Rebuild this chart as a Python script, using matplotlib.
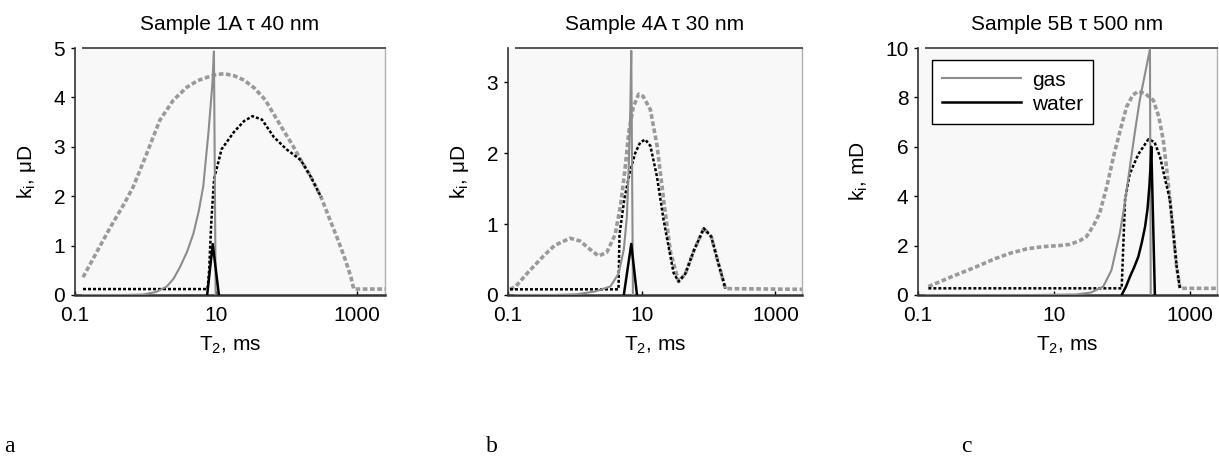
import numpy as np
import matplotlib
matplotlib.use('Agg')
import matplotlib.pyplot as plt
from matplotlib.lines import Line2D

plt.rcParams['font.family'] = ['Liberation Sans', 'DejaVu Sans']
plt.rcParams['mathtext.fontset'] = 'custom'
plt.rcParams['mathtext.rm'] = 'Liberation Sans'
plt.rcParams['mathtext.it'] = 'Liberation Sans'

# ---- panel a: Sample 1A ----
a_gas_x = [0.13, 0.5, 0.93, 1.4, 2.0, 2.5, 3.1, 3.9, 4.8, 5.7, 6.6, 7.8, 8.9, 9.35, 9.9]
a_gas_y = [0, 0, 0.01, 0.06, 0.17, 0.33, 0.57, 0.88, 1.25, 1.7, 2.2, 3.27, 4.28, 4.93, 0]
a_water_x = [7.5, 9.0, 11.0]
a_water_y = [0, 1.03, 0]
a_gasdash_x = [0.13, 0.2, 0.32, 0.5, 0.67, 1.0, 1.6, 2.5, 3.9, 5.5, 7.6, 10, 13, 18, 25, 35, 50, 70, 90,
               120, 160, 220, 310, 420, 540, 680, 820, 900, 2500]
a_gasdash_y = [0.36, 0.85, 1.38, 1.85, 2.19, 2.8, 3.54, 3.95, 4.21, 4.34, 4.41, 4.46, 4.48, 4.44, 4.35,
               4.19, 3.95, 3.6, 3.34, 3.05, 2.73, 2.4, 1.98, 1.5, 1.11, 0.72, 0.37, 0.12, 0.12]
a_waterdot_x = [0.13, 7.6, 8.0, 8.6, 9.4, 12, 18, 25, 33, 45, 66, 100, 160, 220, 310]
a_waterdot_y = [0.12, 0.12, 0.5, 1.5, 2.35, 2.95, 3.3, 3.52, 3.62, 3.55, 3.2, 2.95, 2.73, 2.4, 1.98]

# ---- panel b: Sample 4A ----
b_gas_x = [0.13, 0.5, 1.07, 2.0, 3.4, 4.5, 5.4, 6.0, 6.4, 6.75, 6.98, 7.4]
b_gas_y = [0, 0, 0.01, 0.05, 0.12, 0.3, 0.64, 1.1, 1.81, 2.6, 3.44, 0]
b_water_x = [5.4, 6.98, 8.5]
b_water_y = [0, 0.72, 0]
b_gasdash_x = [0.107, 0.13, 0.2, 0.34, 0.5, 0.85, 1.2, 1.7, 2.26, 3.0, 4.0, 4.8, 5.6, 6.4, 7.5, 9.0, 10.5,
               13.5, 17, 21.3, 27, 35.7, 45, 60, 85, 110, 140, 179, 2500]
b_gasdash_y = [0.08, 0.12, 0.32, 0.55, 0.7, 0.8, 0.76, 0.64, 0.55, 0.6, 0.85, 1.25, 1.75, 2.29, 2.65, 2.83,
               2.8, 2.61, 2.1, 1.34, 0.6, 0.19, 0.3, 0.62, 0.94, 0.82, 0.45, 0.09, 0.08]
b_waterdot_x = [0.107, 4.5, 4.65, 5.5, 6.6, 8.0, 9.5, 11.3, 13.5, 16.9, 21.3, 30, 35.7, 45, 60, 85, 110, 140, 179]
b_waterdot_y = [0.08, 0.08, 0.85, 1.35, 1.72, 2.0, 2.15, 2.19, 2.1, 1.67, 1.05, 0.31, 0.19, 0.3, 0.62, 0.94,
                0.82, 0.45, 0.09]

# ---- panel c: Sample 5B ----
c_gas_x = [0.13, 5, 21, 35, 53, 70, 93, 110, 131, 155, 183, 220, 258, 265]
c_gas_y = [0, 0, 0.02, 0.1, 0.34, 1.0, 2.5, 3.7, 5.2, 6.6, 7.9, 9.0, 9.95, 0]
c_water_x = [99, 115, 131, 150, 174, 195, 219, 238, 253, 263, 270, 305]
c_water_y = [0, 0.35, 0.74, 1.1, 1.55, 2.1, 2.77, 3.5, 4.4, 5.2, 6.0, 0]
c_gasdash_x = [0.142, 0.3, 0.73, 1.3, 2.26, 4.0, 7.0, 12, 17.2, 24, 30, 38, 47, 60, 75, 95, 117, 145, 174,
               220, 289, 350, 405, 455, 508, 570, 637, 713, 2500]
c_gasdash_y = [0.34, 0.72, 1.15, 1.45, 1.69, 1.87, 1.96, 2.0, 2.05, 2.2, 2.36, 2.8, 3.31, 4.4, 5.6, 6.7,
               7.62, 8.1, 8.25, 8.15, 7.89, 7.2, 6.27, 5.1, 3.85, 2.5, 1.15, 0.27, 0.27]
c_waterdot_x = [0.142, 99, 104, 111, 130, 174, 244, 300, 363, 430, 508, 570, 637, 713]
c_waterdot_y = [0.27, 0.27, 1.8, 3.85, 4.9, 5.7, 6.3, 6.2, 5.6, 4.7, 3.85, 2.5, 1.15, 0.27]

titles = [u'Sample 1A \u03c4 40 nm', u'Sample 4A \u03c4 30 nm', u'Sample 5B \u03c4 500 nm']
ylabels = [u'k$_{\\mathrm{i}}$, \u03bcD', u'k$_{\\mathrm{i}}$, \u03bcD', u'k$_{\\mathrm{i}}$, mD']
ylims = [5, 3.48, 10]
yticks = [[0, 1, 2, 3, 4, 5], [0, 1, 2, 3], [0, 2, 4, 6, 8, 10]]
xticks = [0.1, 10, 1000]
panel_letters = ['a', 'b', 'c']

panels = [
    (a_gas_x, a_gas_y, a_water_x, a_water_y, a_gasdash_x, a_gasdash_y, a_waterdot_x, a_waterdot_y),
    (b_gas_x, b_gas_y, b_water_x, b_water_y, b_gasdash_x, b_gasdash_y, b_waterdot_x, b_waterdot_y),
    (c_gas_x, c_gas_y, c_water_x, c_water_y, c_gasdash_x, c_gasdash_y, c_waterdot_x, c_waterdot_y),
]

W, H = 1219, 458
boxes = [(75, 385), (508, 802), (918, 1217)]
top_px, bot_px = 48, 295
fs = 15

fig = plt.figure(figsize=(W / 100, H / 100), dpi=100)

for i, (gx, gy, wx, wy, gdx, gdy, wdx, wdy) in enumerate(panels):
    l, r = boxes[i]
    ax = fig.add_axes([l / W, 1 - bot_px / H, (r - l) / W, (bot_px - top_px) / H])
    ax.set_facecolor('#f8f8f8')
    ax.plot(gx, gy, color='#8c8c8c', lw=1.5, zorder=3)
    ax.plot(wx, wy, color='black', lw=1.8, zorder=4)
    ax.plot(gdx, gdy, color='#9a9a9a', lw=2.6, linestyle=(0, (1.3, 0.7)), zorder=2)
    ax.plot(wdx, wdy, color='black', lw=1.8, linestyle=(0, (1.2, 0.8)), zorder=2.5)

    ax.set_xscale('log')
    ax.set_xlim(0.1, 2500)
    ax.set_ylim(0, ylims[i])
    ax.set_xticks(xticks)
    ax.set_xticklabels(['0.1', '10', '1000'])
    ax.minorticks_off()
    ax.set_yticks(yticks[i])
    ax.tick_params(axis='y', direction='out', length=3, width=1, labelsize=fs, pad=4)
    ax.tick_params(axis='x', direction='in', length=3, width=1, labelsize=fs, pad=8)

    ax.spines['left'].set_color('#333333')
    ax.spines['bottom'].set_color('#333333')
    ax.spines['bottom'].set_linewidth(1.8)
    ax.spines['left'].set_linewidth(1.2)
    ax.spines['top'].set_color('#555555')
    ax.spines['top'].set_linewidth(1.4)
    ax.spines['top'].set_bounds(0.13, 2500)
    ax.spines['right'].set_color('#b0b0b0')
    ax.spines['right'].set_linewidth(1.0)

    ax.set_title(titles[i], fontsize=fs, pad=13)
    ax.set_xlabel(u'T$_{\\mathrm{2}}$, ms', fontsize=fs, labelpad=7)
    ax.set_ylabel(ylabels[i], fontsize=fs, labelpad=11)

    if i == 2:
        handles = [Line2D([], [], color='#8c8c8c', lw=1.5), Line2D([], [], color='black', lw=1.8)]
        leg = ax.legend(handles, ['gas', 'water'], loc='upper left', bbox_to_anchor=(0.046, 0.951),
                        borderaxespad=0, fontsize=fs, handlelength=3.8, handletextpad=0.5,
                        fancybox=False, framealpha=1, edgecolor='black', labelspacing=0.25,
                        borderpad=0.5)
        leg.get_frame().set_linewidth(1.0)

for x_px, s in zip([4, 486, 961], panel_letters):
    fig.text(x_px / W, 1 - 452 / H, s, family='Liberation Serif', fontsize=17, va='baseline', ha='left')

fig.savefig('out.png', dpi=100)
